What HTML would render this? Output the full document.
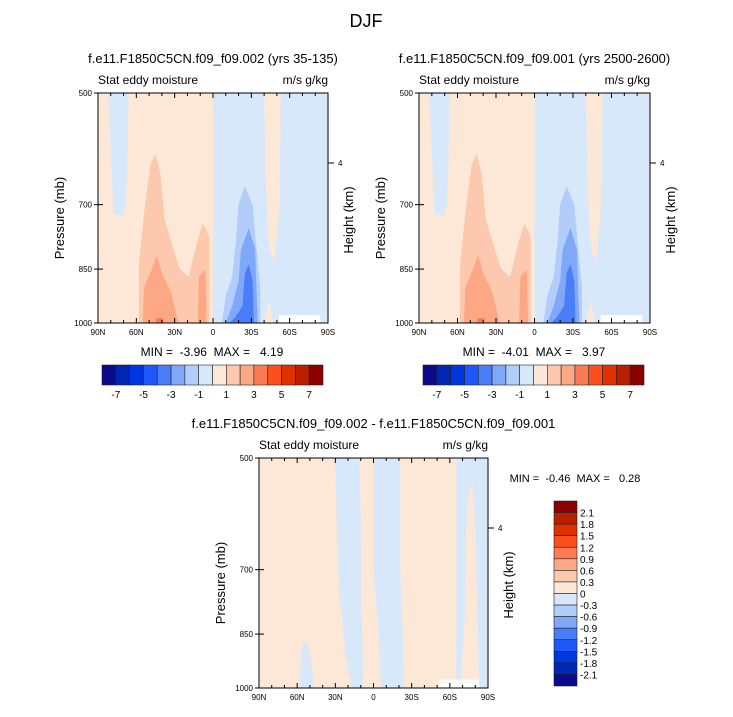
<!DOCTYPE html>
<html><head><meta charset="utf-8"><style>
body{margin:0;background:#fff}
svg text{font-family:"Liberation Sans",sans-serif;fill:#000;white-space:pre}
</style></head><body>
<svg id="fig" width="733" height="712" xmlns="http://www.w3.org/2000/svg">
<text x="366" y="27" font-size="18" text-anchor="middle">DJF</text>
</svg>
<script>
const NS="http://www.w3.org/2000/svg";
const svg=document.getElementById('fig');
const latTicks=[90,60,30,0,-30,-60,-90];
const latLabels=["90N","60N","30N","0","30S","60S","90S"];
const presTicks=[500,700,850,1000];
const colors16=["#0a0a8c","#0026b4","#0036e0","#1e58fa","#4a7ef8","#80a8f8","#b2cdfa","#d8e8fb","#fde8d8","#fcc8ae","#fca884","#fb7c54","#f9501e","#e03200","#b82000","#8c0000"];
const topLevels=["-7","-5","-3","-1","1","3","5","7"];
const diffColors=["#0a0a8c","#0026b4","#0036e0","#1e58fa","#4a7ef8","#80a8f8","#b2cdfa","#d8e8fb","#fde8d8","#fcc8ae","#fca884","#fb7c54","#f9501e","#e03200","#b82000","#8c0000"];
const diffLevels=["2.1","1.8","1.5","1.2","0.9","0.6","0.3","0","-0.3","-0.6","-0.9","-1.2","-1.5","-1.8","-2.1"];
// contour regions [color, [[lat,p],...]]
const topRegions=[
 ["#d8e8fb",[[0,500],[-90,500],[-90,1000],[0,1000]]],
 ["#d8e8fb",[[82,500],[66,500],[67,600],[68,700],[71,725],[78,720],[80,600]]],
 ["#fcc8ae",[[58,1000],[58,840],[54,720],[49,620],[45,600],[41,640],[38,730],[32,790],[26,850],[19,870],[13,790],[8,740],[3,770],[3,1000]]],
 ["#fca884",[[55,1000],[54,900],[48,850],[44,815],[40,860],[33,910],[27,1000]]],
 ["#fca884",[[12,1000],[11,870],[6,850],[5,1000]]],
 ["#fb7c54",[[45,1000],[44,985],[39,985],[39,1000]]],
 ["#b2cdfa",[[-7,1000],[-10,920],[-15,870],[-18,780],[-20,700],[-25,662],[-31,700],[-34,800],[-37,900],[-37,1000]]],
 ["#80a8f8",[[-10,1000],[-15,950],[-20,880],[-22,800],[-28,751],[-33,800],[-34,900],[-35,1000]]],
 ["#4a7ef8",[[-13,1000],[-18,980],[-23,950],[-25,860],[-28,838],[-31,880],[-32,1000]]],
 ["#fde8d8",[[-40,500],[-53,500],[-52,700],[-48,830],[-44,800],[-42,700]]],
 ["#fde8d8",[[-40,1000],[-44,930],[-47,1000]]],
 ["#ffffff",[[-51.5,976],[-84,976],[-84,1000],[-51.5,1000]]]
];
const diffRegions=[
 ["#d8e8fb",[[31,500],[11,500],[10,600],[9,800],[8,1000],[17,1000],[22,900],[27,750],[29,600],[30,520]]],
 ["#d8e8fb",[[0,500],[-21,500],[-21,700],[-23,850],[-24,1000],[-6,1000],[-4,850],[0,700]]],
 ["#d8e8fb",[[-65,500],[-90,500],[-90,1000],[-65,1000]]],
 ["#fde8d8",[[-74,560],[-78,540],[-80,620],[-82,850],[-83,1000],[-68,1000],[-72,800],[-73,620]]],
 ["#d8e8fb",[[58,1000],[57,900],[55,870],[51,880],[48,950],[47,1000]]],
 ["#ffffff",[[-51.5,975],[-83,975],[-83,1000],[-51.5,1000]]]
];
function el(tag,attrs,parent){const e=document.createElementNS(NS,tag);for(const k in attrs)e.setAttribute(k,attrs[k]);(parent||svg).appendChild(e);return e;}
function txt(x,y,s,size,anchor,name,rot){const t=el('text',{x:x,y:y,'font-size':size,'text-anchor':anchor||'middle'});t.textContent=s;


if(rot)t.setAttribute('transform','rotate(-90 '+x+' '+y+')');return t;}
function plot(x0,y0,w,h,bg,regions,title,prefix){
 const X=lat=>x0+(90-lat)/180*w;
 const Y=p=>y0+Math.log(p/500)/Math.log(2)*h;
 const g=el('g',{});
 
 
 el('rect',{x:x0,y:y0,width:w,height:h,fill:bg},g);
 regions.forEach(r=>{const poly=el('polygon',{points:r[1].map(q=>X(q[0])+','+Y(q[1])).join(' '),fill:r[0]},g);
  
  });
 el('rect',{x:x0,y:y0,width:w,height:h,fill:'none',stroke:'#000','stroke-width':1},g);
 for(let l=90;l>=-90;l-=10){const mj=l%30===0;const L=mj?5:3;
  el('line',{x1:X(l),x2:X(l),y1:y0+h,y2:y0+h-L,stroke:'#000'},g);
  el('line',{x1:X(l),x2:X(l),y1:y0,y2:y0+L,stroke:'#000'},g);}
 latTicks.forEach((l,i)=>txt(X(l),y0+h+12,latLabels[i],8,'middle','lat-tick-label'));
 presTicks.forEach(p=>{el('line',{x1:x0,x2:x0+5,y1:Y(p),y2:Y(p),stroke:'#000'},g);el('line',{x1:x0-4,x2:x0,y1:Y(p),y2:Y(p),stroke:'#000'},g);
  txt(x0-6,Y(p)+3,String(p),8,'end','pressure-tick-label');});
 const y4=Y(500)+ (163-93)/230*h;
 el('line',{x1:x0+w,x2:x0+w+6,y1:y4,y2:y4,stroke:'#000'},g);
 txt(x0+w+10,y4+3,'4',8,'start','height-tick-label');
 txt(x0+w/2,y0-30,title,13,'middle','plot-title');
 txt(x0,y0-9,'Stat eddy moisture',12,'start','variable-label');
 txt(x0+w,y0-9,'m/s g/kg',12,'end','units-label');
 txt(x0-34,y0+h/2+10,'Pressure (mb)',13,'middle','y-axis-title',true);
 txt(x0+w+25,y0+h/2+12,'Height (km)',13,'middle','y2-axis-title',true);
}
plot(98,93,230,230,'#fde8d8',topRegions,'f.e11.F1850C5CN.f09_f09.002 (yrs 35-135)','left');
plot(419,93,231,230,'#fde8d8',topRegions,'f.e11.F1850C5CN.f09_f09.001 (yrs 2500-2600)','right');
plot(259,458,229,230,'#fde8d8',diffRegions,'f.e11.F1850C5CN.f09_f09.002 - f.e11.F1850C5CN.f09_f09.001','diff');
txt(212,356,'MIN =  -3.96  MAX =   4.19',12,'middle','min-max-left');
txt(534,356,'MIN =  -4.01  MAX =   3.97',12,'middle','min-max-right');
txt(575,482,'MIN =  -0.46  MAX =   0.28',11,'middle','min-max-diff');
function hbar(x0,y0,w,h,name){const bw=w/colors16.length;
 colors16.forEach((c,i)=>{const r=el('rect',{x:x0+i*bw,y:y0,width:bw,height:h,fill:c,stroke:'#222','stroke-width':0.6});
  
  });
 topLevels.forEach((s,i)=>txt(x0+(2*i+1)*bw,y0+h+13,s,10,'middle',name+'-label'));}
hbar(102,365,221,20,'colorbar-left');
hbar(423,365,221,20,'colorbar-right');
(function(){const x0=554,y0=501,w=23,h=185,n=diffColors.length,bh=h/n;
 for(let i=0;i<n;i++){const r=el('rect',{x:x0,y:y0+i*bh,width:w,height:bh,fill:diffColors[n-1-i],stroke:'#222','stroke-width':0.6});
  
  }
 diffLevels.forEach((s,i)=>txt(x0+w+3,y0+(i+1)*bh+4,s,10,'start','colorbar-diff-label'));})();
</script>
</body></html>
